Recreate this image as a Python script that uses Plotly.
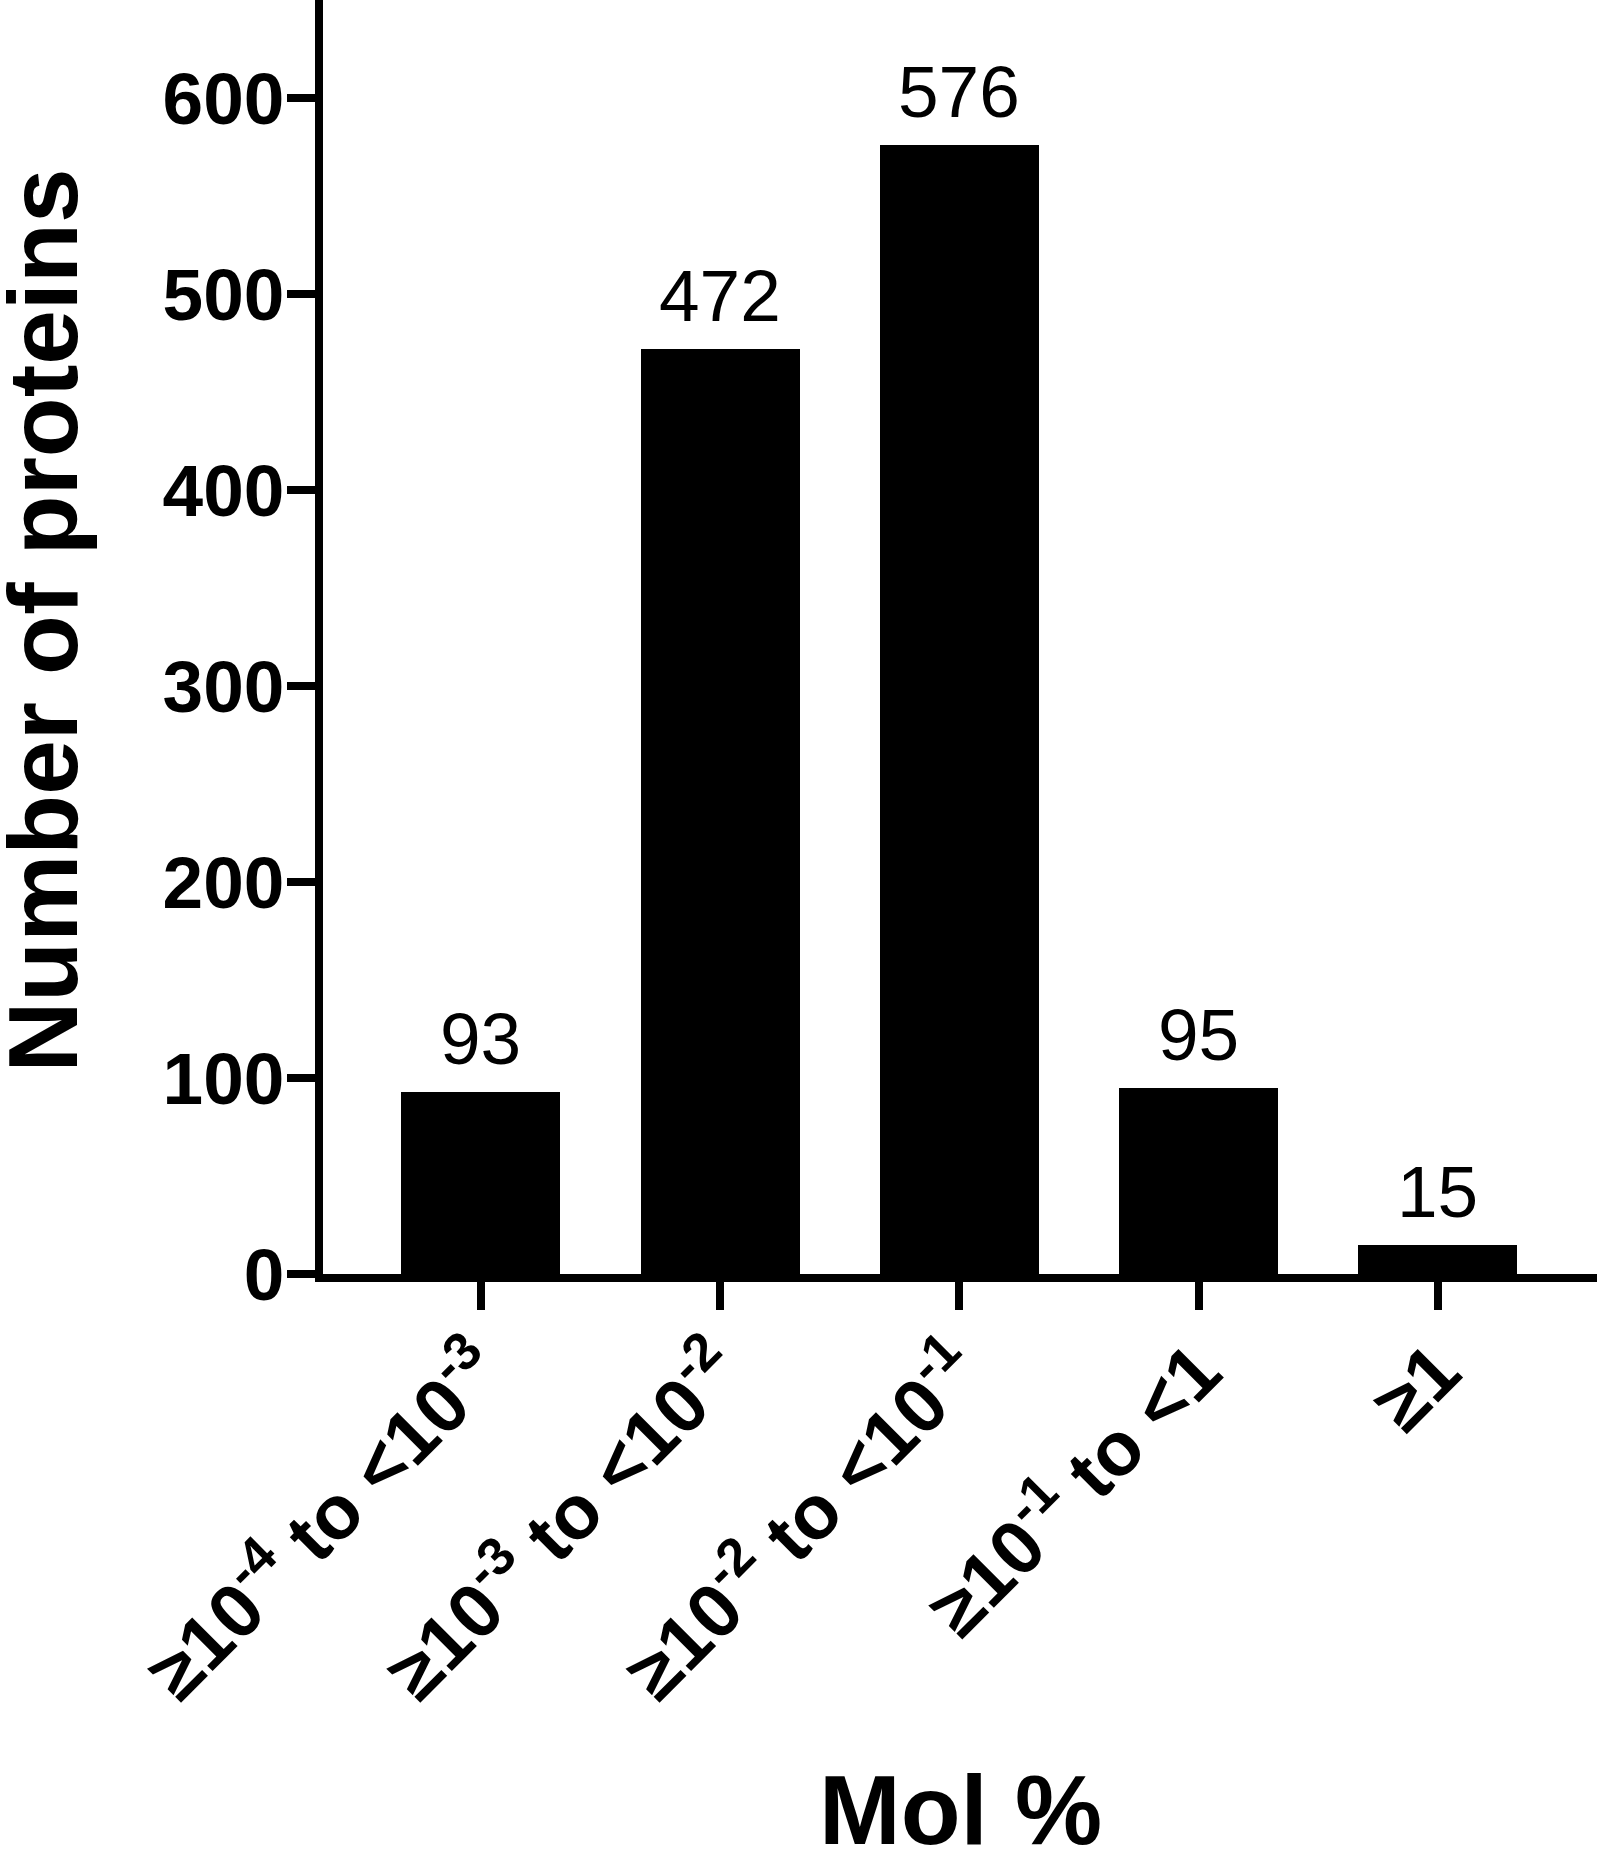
import plotly.graph_objects as go

categories = [
    "≥10<sup>-4</sup> to &lt;10<sup>-3</sup>",
    "≥10<sup>-3</sup> to &lt;10<sup>-2</sup>",
    "≥10<sup>-2</sup> to &lt;10<sup>-1</sup>",
    "≥10<sup>-1</sup> to &lt;1",
    "≥1",
]
counts = [93, 472, 576, 95, 15]
y_ticks = [0, 100, 200, 300, 400, 500, 600]

FONT = "Liberation Sans, Arial, Helvetica, sans-serif"
BOLD = dict(family=FONT, size=73, color="black", weight="bold")
XBOLD = dict(family=FONT, size=76, color="black", weight="bold")

x_pos = list(range(len(categories)))

fig = go.Figure()
fig.add_trace(go.Bar(
    x=x_pos, y=counts, width=0.665,
    marker=dict(color="black", line=dict(width=0)),
    showlegend=False, hoverinfo="skip",
))

for xi, v in zip(x_pos, counts):
    fig.add_annotation(x=xi, y=v, xref="x", yref="y", text=str(v),
                       showarrow=False, yanchor="bottom", yshift=11,
                       font=dict(family=FONT, size=73, color="black"))

fig.add_annotation(text="Number of proteins", xref="paper", yref="paper",
                   x=-0.2198, y=0.513, xanchor="center", yanchor="middle",
                   textangle=-90, showarrow=False,
                   font=dict(family=FONT, size=98, color="black", weight="bold"))
fig.add_annotation(text="Mol %", xref="paper", yref="paper",
                   x=0.5, y=-0.4207, xanchor="center", yanchor="middle",
                   showarrow=False,
                   font=dict(family=FONT, size=98, color="black", weight="bold"))

fig.update_layout(
    width=1601, height=1850,
    margin=dict(l=323, r=4, t=0, b=576),
    paper_bgcolor="white", plot_bgcolor="white",
    bargap=0,
    xaxis=dict(
        range=[-0.66, 4.665], tickmode="array", tickvals=x_pos, ticktext=categories,
        tickangle=-45, showline=True, linecolor="black", linewidth=8,
        ticks="outside", ticklen=28, tickwidth=8, tickcolor="black",
        tickfont=XBOLD, ticklabelstandoff=-14,
        showgrid=False, zeroline=False, automargin=False,
    ),
    yaxis=dict(
        range=[0, 650], tickmode="array", tickvals=y_ticks,
        showline=True, linecolor="black", linewidth=8,
        ticks="outside", ticklen=28, tickwidth=8, tickcolor="black",
        tickfont=BOLD, ticklabelstandoff=-12,
        showgrid=False, zeroline=False, automargin=False,
    ),
)

fig.write_html("out.html", config={"displayModeBar": False},
               post_script="document.body.style.margin='0';")
